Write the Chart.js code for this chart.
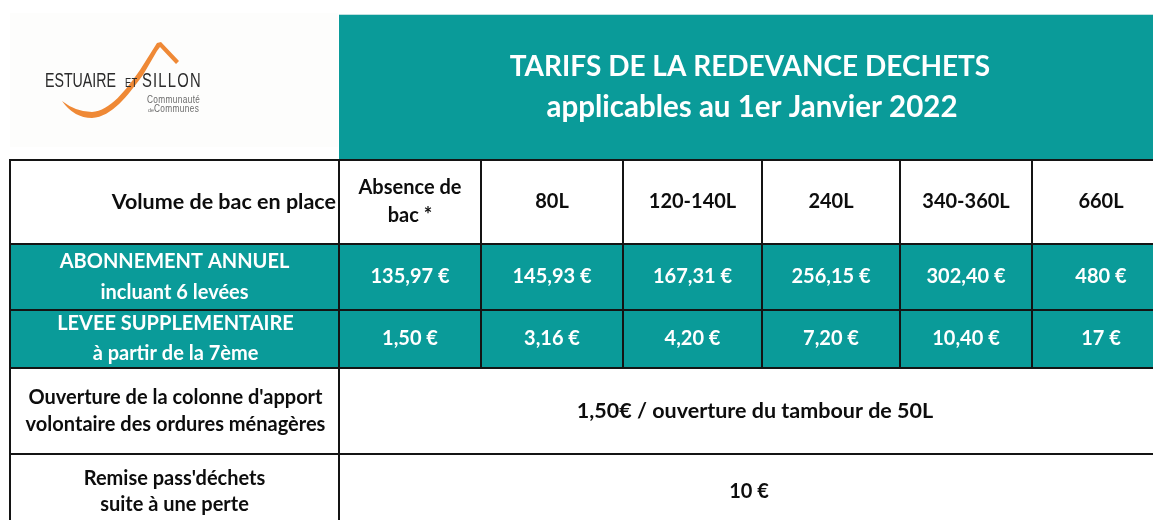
<!DOCTYPE html>
<html><head><meta charset="utf-8">
<script src="https://cdn.jsdelivr.net/npm/chart.js@4.4.0/dist/chart.umd.min.js"></script>
<style>html,body{margin:0;padding:0;background:#fff;overflow:hidden}#wrap{width:1153px;height:520px;position:relative}</style>
</head><body><div id="wrap"><canvas id="c" width="1153" height="520"></canvas></div>
<script>
// ---- data ----
const titleLines = ['TARIFS DE LA REDEVANCE DECHETS', 'applicables au 1er Janvier 2022'];
const headerLabel = 'Volume de bac en place';
const categories = [['Absence de', 'bac *'], ['80L'], ['120-140L'], ['240L'], ['340-360L'], ['660L']];
const rowLabels = [
  ['ABONNEMENT ANNUEL', 'incluant 6 levées'],
  ['LEVEE SUPPLEMENTAIRE', 'à partir de la 7ème'],
  ["Ouverture de la colonne d'apport", 'volontaire des ordures ménagères'],
  ["Remise pass'déchets", 'suite à une perte']
];
const abonnement = [135.97, 145.93, 167.31, 256.15, 302.40, 480];
const leveeSupp = [1.50, 3.16, 4.20, 7.20, 10.40, 17];
const ouvertureText = '1,50€ / ouverture du tambour de 50L';
const remisePass = 10;

// ---- layout (scale units) ----
const colEdges = [10, 339, 481, 623, 762, 900, 1032, 1170];
const rowEdges = [160, 244, 310, 368, 454, 530];
const titleBox = {x0: 339, x1: 1170, y0: 14, y1: 160};
const logoBox = {x0: 10, x1: 338, y0: 13, y1: 147};
const lineGaps = [28, 31, 30, 27, 26];
const TEAL = '#0a9b99';
const FONT = 'Lato, "Noto Sans", sans-serif';

function euro(v) {
  const s = Number.isInteger(v) ? String(v) : v.toFixed(2).replace('.', ',');
  return s + ' €';
}

const tablePlugin = {
  id: 'tablePlugin',
  beforeDraw(chart) {
    const ctx = chart.ctx, X = chart.scales.x, Y = chart.scales.y;
    const px = v => X.getPixelForValue(v), py = v => Y.getPixelForValue(v);
    const rect = (x0, y0, x1, y1, c) => { ctx.fillStyle = c; ctx.fillRect(px(x0), py(y0), px(x1) - px(x0), py(y1) - py(y0)); };
    ctx.save();
    // backgrounds
    rect(logoBox.x0, logoBox.y0, logoBox.x1, logoBox.y1, '#fdfdfc');
    rect(titleBox.x0, titleBox.y0, titleBox.x1, titleBox.y1, TEAL);
    ctx.fillStyle = '#bfe0df'; ctx.fillRect(px(titleBox.x0), py(titleBox.y0), px(titleBox.x1) - px(titleBox.x0), 1);
    rect(colEdges[0], rowEdges[1], colEdges[colEdges.length - 1], rowEdges[3], TEAL);

    // borders
    ctx.strokeStyle = '#141414'; ctx.lineWidth = 2;
    const line = (x0, y0, x1, y1) => { ctx.beginPath(); ctx.moveTo(px(x0), py(y0)); ctx.lineTo(px(x1), py(y1)); ctx.stroke(); };
    const xEnd = colEdges[colEdges.length - 1], yEnd = rowEdges[rowEdges.length - 1];
    for (let r = 0; r < rowEdges.length - 1; r++) line(colEdges[0] - 1, rowEdges[r], xEnd, rowEdges[r]);
    line(colEdges[0], rowEdges[0], colEdges[0], yEnd);
    line(colEdges[1], rowEdges[0], colEdges[1], yEnd);
    for (let c = 2; c < colEdges.length - 1; c++) line(colEdges[c], rowEdges[0], colEdges[c], rowEdges[3]);

    // text helper
    const text = (lines, cx, cy, gap, color, font, align) => {
      ctx.fillStyle = color; ctx.font = font; ctx.textAlign = align || 'center'; ctx.textBaseline = 'middle';
      const n = lines.length;
      lines.forEach((t, i) => ctx.fillText(t, cx, cy + (i - (n - 1) / 2) * gap));
    };
    const cellFont = 'bold 20px ' + FONT;
    const midY = r => (py(rowEdges[r]) + py(rowEdges[r + 1])) / 2;
    const midX = c => (px(colEdges[c]) + px(colEdges[c + 1])) / 2;

    // title
    const tcx = (px(titleBox.x0) + px(1153)) / 2 + 4;
    text([titleLines[0]], tcx, py(titleBox.y0) + 53, 0, '#fff', 'bold 28px ' + FONT);
    text([titleLines[1]], tcx + 2, py(titleBox.y0) + 93, 0, '#fff', 'bold 29.5px ' + FONT);
    // header row
    text([headerLabel], px(colEdges[1]) - 3, midY(0), 0, '#0d0d0d', 'bold 21.5px ' + FONT, 'right');
    categories.forEach((lab, i) => text(lab, midX(i + 1), midY(0), lineGaps[0], '#0d0d0d', cellFont));
    // teal rows
    text(rowLabels[0], midX(0), midY(1), lineGaps[1], '#fff', cellFont);
    abonnement.forEach((v, i) => text([euro(v)], midX(i + 1), midY(1), 0, '#fff', cellFont));
    text(rowLabels[1], midX(0) + 1, midY(2), lineGaps[2], '#fff', cellFont);
    leveeSupp.forEach((v, i) => text([euro(v)], midX(i + 1), midY(2), 0, '#fff', cellFont));
    // white rows
    const wideMid = (px(colEdges[1]) + px(1153)) / 2;
    text(rowLabels[2], midX(0) + 1, midY(3), lineGaps[3], '#0d0d0d', cellFont);
    text([ouvertureText], wideMid + 9, midY(3), 0, '#0d0d0d', 'bold 21.5px ' + FONT);
    text(rowLabels[3], midX(0), midY(4), lineGaps[4], '#0d0d0d', cellFont);
    text([euro(remisePass)], wideMid + 3, midY(4), 0, '#0d0d0d', cellFont);

    // logo swoosh
    ctx.fillStyle = '#ef8936';
    ctx.beginPath();
    ctx.moveTo(px(62), py(101));
    ctx.quadraticCurveTo(px(74), py(118), px(92), py(118));
    ctx.bezierCurveTo(px(112), py(117), px(128), py(95), px(143), py(75));
    ctx.lineTo(px(157), py(51));
    ctx.lineTo(px(160), py(47));
    ctx.lineTo(px(176), py(64));
    ctx.lineTo(px(179), py(61));
    ctx.lineTo(px(161), py(42));
    ctx.lineTo(px(157), py(43));
    ctx.lineTo(px(140), py(70));
    ctx.bezierCurveTo(px(126), py(90), px(110), py(111), px(92), py(112));
    ctx.quadraticCurveTo(px(76), py(112), px(62), py(101));
    ctx.closePath();
    ctx.fill();
    // logo text
    ctx.textAlign = 'left'; ctx.textBaseline = 'alphabetic';
    const squeezed = (t, x, y, size, sx, ls, color) => {
      ctx.save(); ctx.translate(px(x), py(y)); ctx.scale(sx, 1);
      ctx.fillStyle = color;
      ctx.font = size + 'px "Liberation Sans", Arial, sans-serif';
      ctx.letterSpacing = (ls || 0) + 'px';
      ctx.fillText(t, 0, 0); ctx.restore();
    };
    squeezed('ESTUAIRE', 45, 87, 20, 0.71, 0, '#2b2b2b');
    squeezed('SILLON', 142, 87, 20, 0.74, 1.6, '#2b2b2b');
    squeezed('ET', 125, 87, 13, 0.72, 0.5, '#2b2b2b');
    squeezed('Communauté', 147, 103, 11.5, 0.72, 0.5, '#6a6a6a');
    squeezed('Communes', 154, 112, 11.5, 0.72, 0.5, '#6a6a6a');
    squeezed('de', 148, 112, 6, 0.9, 0, '#6a6a6a');
    ctx.restore();
  }
};

new Chart(document.getElementById('c'), {
  type: 'scatter',
  data: { datasets: [] },
  options: {
    responsive: false, animation: false, events: [],
    layout: { padding: 0 },
    plugins: { legend: { display: false }, tooltip: { enabled: false } },
    scales: {
      x: { type: 'linear', min: 0, max: 1153, display: false },
      y: { type: 'linear', min: 0, max: 520, reverse: true, display: false }
    }
  },
  plugins: [tablePlugin]
});
</script></body></html>
